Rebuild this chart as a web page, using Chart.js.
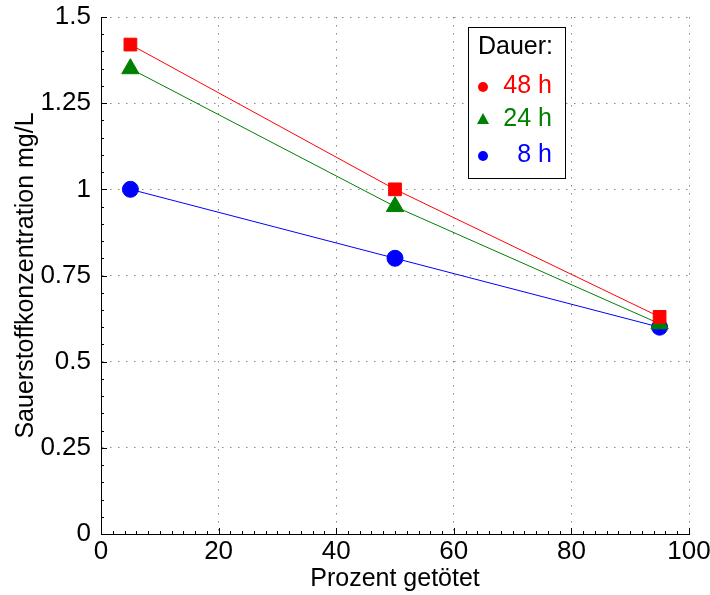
<!DOCTYPE html>
<html>
<head>
<meta charset="utf-8">
<script src="https://cdn.jsdelivr.net/npm/chart.js@4/dist/chart.umd.min.js"></script>
<style>
  html, body { margin: 0; padding: 0; background: #fff; }
  #wrap { width: 710px; height: 595px; }
</style>
</head>
<body>
<div id="wrap"><canvas id="o2Canvas"></canvas></div>
<script>
// Prozent getötet (x) vs. Sauerstoffkonzentration (y)
var xPct = [5, 50, 95];
var o2h48 = [1.42, 1.0, 0.63];
var o2h24 = [1.35, 0.95, 0.61];
var o2h8 = [1.0, 0.8, 0.6];
var seriesLabels = ['48 h', '24 h', '8 h'];
var legendTitle = 'Dauer:';
var xTicks = [0, 20, 40, 60, 80, 100];
var yTicks = [0, 0.25, 0.5, 0.75, 1, 1.25, 1.5];

var FONT = '"Liberation Sans", Arial, sans-serif';

function pts(ys) {
    return xPct.map(function (x, i) { return { x: x, y: ys[i] }; });
}

// inward major + minor ticks, like the old matlab axes
var innerTicks = {
    id: 'innerTicks',
    afterDraw: function (chart) {
        var ctx = chart.ctx, a = chart.chartArea;
        var xs = chart.scales.x, ys = chart.scales.y;
        ctx.save();
        ctx.strokeStyle = '#000';
        ctx.lineWidth = 1;
        ctx.beginPath();
        for (var v = 0; v <= 100; v += 2) {
            var px = Math.round(xs.getPixelForValue(v)) + 0.5;
            var len = (v % 20 === 0) ? 6 : 3;
            ctx.moveTo(px, a.bottom);
            ctx.lineTo(px, a.bottom - len);
        }
        for (var k = 0; k <= 30; k++) {
            var val = k * 0.05;
            var py = Math.round(ys.getPixelForValue(val)) + 0.5;
            var l2 = (k % 5 === 0) ? 6 : 3;
            ctx.moveTo(a.left, py);
            ctx.lineTo(a.left + l2, py);
        }
        ctx.stroke();
        ctx.restore();
    }
};

// boxed legend with coloured text inside the plot
var boxLegend = {
    id: 'boxLegend',
    afterDraw: function (chart) {
        var ctx = chart.ctx;
        var bx = 468, by = 27, bw = 97, bh = 151;
        ctx.save();
        ctx.fillStyle = '#fff';
        ctx.fillRect(bx, by, bw, bh);
        ctx.strokeStyle = '#000';
        ctx.lineWidth = 1;
        ctx.strokeRect(bx + 0.5, by + 0.5, bw, bh);
        ctx.font = '25px ' + FONT;
        ctx.textBaseline = 'middle';
        ctx.fillStyle = '#000';
        ctx.textAlign = 'left';
        ctx.fillText(legendTitle, bx + 10, by + 20);
        var rows = [by + 59, by + 92, by + 128];
        chart.data.datasets.forEach(function (ds, i) {
            var y = rows[i];
            var mx = bx + 15;
            ctx.fillStyle = ds.borderColor;
            ctx.beginPath();
            if (ds.legendMarker === 'triangle') {
                ctx.moveTo(mx, y - 6);
                ctx.lineTo(mx + 6, y + 5);
                ctx.lineTo(mx - 6, y + 5);
                ctx.closePath();
            } else {
                ctx.arc(mx, y + 1, 5, 0, Math.PI * 2);
            }
            ctx.fill();
            ctx.textAlign = 'right';
            ctx.fillText(ds.label, bx + 84, y);
        });
        ctx.restore();
    }
};

var ctx = document.getElementById('o2Canvas');

var myChart = new Chart(ctx, {
    type: 'line',
    data: {
        datasets: [
            {
                label: seriesLabels[0],
                data: pts(o2h48),
                borderColor: '#ff0000',
                backgroundColor: '#ff0000',
                borderWidth: 1,
                pointStyle: 'rect',
                pointRadius: 9,
                legendMarker: 'circle'
            },
            {
                label: seriesLabels[1],
                data: pts(o2h24),
                borderColor: '#008000',
                backgroundColor: '#008000',
                borderWidth: 1,
                pointStyle: 'triangle',
                pointRadius: 10,
                legendMarker: 'triangle'
            },
            {
                label: seriesLabels[2],
                data: pts(o2h8),
                borderColor: '#0000ff',
                backgroundColor: '#0000ff',
                borderWidth: 1,
                pointStyle: 'circle',
                pointRadius: 8,
                legendMarker: 'circle'
            }
        ]
    },
    options: {
        responsive: true,
        maintainAspectRatio: false,
        animation: false,
        layout: { padding: { top: 17, right: 21, left: 0, bottom: 0 } },
        plugins: {
            legend: { display: false },
            tooltip: { enabled: false }
        },
        elements: {
            line: { tension: 0 },
            point: { borderWidth: 1 }
        },
        scales: {
            x: {
                type: 'linear',
                min: 0,
                max: 100,
                afterBuildTicks: function (s) { s.ticks = xTicks.map(function (v) { return { value: v }; }); },
                afterFit: function (s) { s.height = 61; s.paddingLeft = 0; s.paddingRight = 0; },
                ticks: {
                    color: '#000',
                    padding: 2,
                    maxRotation: 0,
                    font: { family: FONT, size: 26 }
                },
                grid: { color: '#888', lineWidth: 1, drawTicks: false },
                border: { display: true, color: '#000', width: 1, dash: [1.5, 6.5] },
                title: {
                    display: true,
                    text: 'Prozent getötet',
                    color: '#000',
                    padding: { top: 0, bottom: 1 },
                    font: { family: FONT, size: 25 }
                }
            },
            y: {
                type: 'linear',
                min: 0,
                max: 1.5,
                afterBuildTicks: function (s) { s.ticks = yTicks.map(function (v) { return { value: v }; }); },
                afterFit: function (s) { s.width = 101; s.paddingTop = 0; s.paddingBottom = 0; },
                ticks: {
                    color: '#000',
                    padding: 10,
                    font: { family: FONT, size: 26 },
                    callback: function (v) { return String(v); }
                },
                grid: { color: '#888', lineWidth: 1, drawTicks: false },
                border: { display: true, color: '#000', width: 1, dash: [1.5, 6.5] },
                title: {
                    display: true,
                    text: 'Sauerstoffkonzentration mg/L',
                    color: '#000',
                    padding: { top: 11, bottom: 0 },
                    font: { family: FONT, size: 25 }
                }
            }
        }
    },
    plugins: [innerTicks, boxLegend]
});
</script>
</body>
</html>
